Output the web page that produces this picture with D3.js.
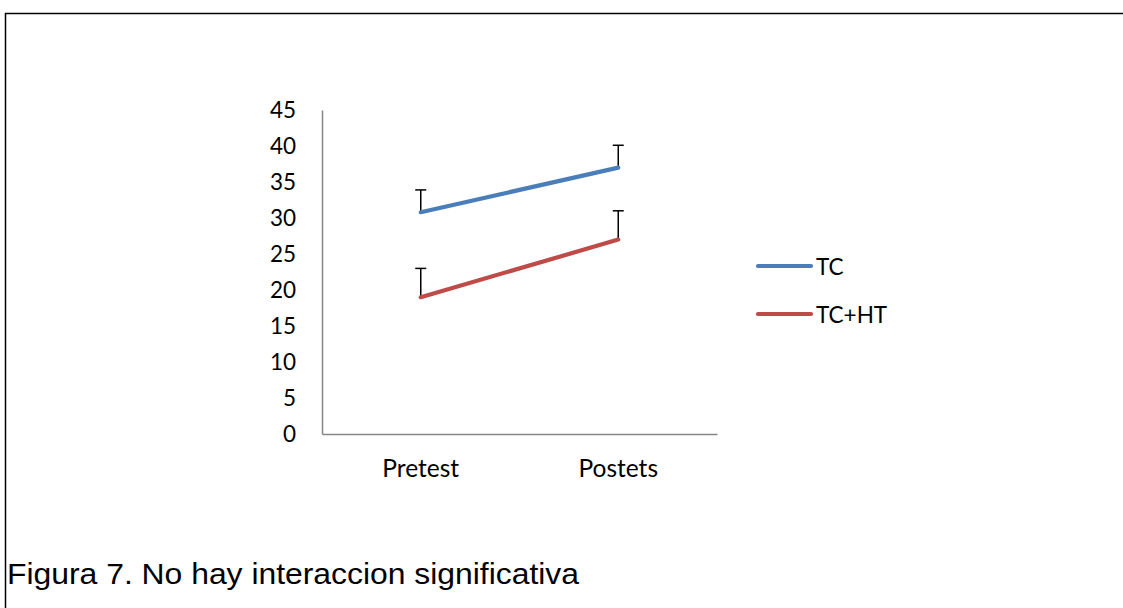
<!DOCTYPE html>
<html><head><meta charset="utf-8">
<script src="https://cdn.jsdelivr.net/npm/d3@7"></script>
<style>
html,body{margin:0;padding:0;background:#fff;overflow:hidden}
svg{display:block}
</style></head>
<body>
<script>
const categories = ["Pretest", "Postets"];
const seriesNames = ["TC", "TC+HT"];
const tcValues = [30.8, 37.0];
const tchtValues = [19.0, 27.0];
const tcErrors = [3.1, 3.1];
const tchtErrors = [4.0, 4.0];
const yTicks = [0, 5, 10, 15, 20, 25, 30, 35, 40, 45];
const caption = "Figura 7. No hay interaccion significativa";

const colors = ["#4A7EBB", "#BE4B48"];
const series = [
  {name: seriesNames[0], values: tcValues, errors: tcErrors, color: colors[0]},
  {name: seriesNames[1], values: tchtValues, errors: tchtErrors, color: colors[1]}
];

const W = 1123, H = 608;
const svg = d3.select("body").append("svg").attr("width", W).attr("height", H);

// frame
svg.append("rect").attr("x", 5.5).attr("y", 13.5).attr("width", W + 20).attr("height", H + 20)
  .attr("fill", "none").attr("stroke", "#000").attr("stroke-width", 1.5);

const x0 = 322, x1 = 717, yTop = 110, yBot = 434;
const x = d3.scaleBand().domain(categories).range([x0, x1]);
const y = d3.scaleLinear().domain([0, 45]).range([yBot, yTop]);
const font = "Lato, 'Open Sans', sans-serif";

// axes
const yAxis = svg.append("g").attr("transform", `translate(${x0},0)`)
  .call(d3.axisLeft(y).tickValues(yTicks).tickSize(0).tickPadding(26));
yAxis.select(".domain").attr("stroke", "#868686").attr("stroke-width", 1.5);
yAxis.selectAll("text").attr("font-family", font).attr("font-size", 22.5).attr("fill", "#000");

const xAxis = svg.append("g").attr("transform", `translate(0,${yBot})`)
  .call(d3.axisBottom(x).tickSize(0).tickPadding(25.5));
xAxis.select(".domain").attr("stroke", "#868686").attr("stroke-width", 1.5);
xAxis.selectAll("text").attr("font-family", font).attr("font-size", 24.5).attr("fill", "#000");

const cx = c => x(c) + x.bandwidth() / 2;
const line = d3.line().x((d, i) => cx(categories[i])).y(d => y(d));

series.forEach(s => {
  // error bars
  const g = svg.append("g");
  categories.forEach((c, i) => {
    g.append("line").attr("x1", cx(c)).attr("x2", cx(c))
      .attr("y1", y(s.values[i])).attr("y2", y(s.values[i] + s.errors[i]))
      .attr("stroke", "#000").attr("stroke-width", 1.5);
    g.append("line").attr("x1", cx(c) - 5.5).attr("x2", cx(c) + 5.5)
      .attr("y1", y(s.values[i] + s.errors[i])).attr("y2", y(s.values[i] + s.errors[i]))
      .attr("stroke", "#000").attr("stroke-width", 1.5);
  });
  svg.append("path").datum(s.values).attr("d", line).attr("fill", "none")
    .attr("stroke", s.color).attr("stroke-width", 4.2).attr("stroke-linecap", "round");
});

// legend
const leg = svg.append("g");
series.forEach((s, i) => {
  const ly = 266 + i * 48;
  leg.append("line").attr("x1", 758).attr("x2", 811).attr("y1", ly).attr("y2", ly)
    .attr("stroke", s.color).attr("stroke-width", 4.2).attr("stroke-linecap", "round");
  leg.append("text").attr("x", 816).attr("y", ly + 1).attr("dy", "0.35em")
    .attr("font-family", font).attr("font-size", 22.5).text(s.name);
});

// caption
svg.append("text").attr("x", 7).attr("y", 584).attr("font-family", "'Liberation Sans', Arial, sans-serif")
  .attr("font-size", 30).attr("fill", "#000")
  .attr("textLength", 572).attr("lengthAdjust", "spacingAndGlyphs").text(caption);
</script>
</body></html>
